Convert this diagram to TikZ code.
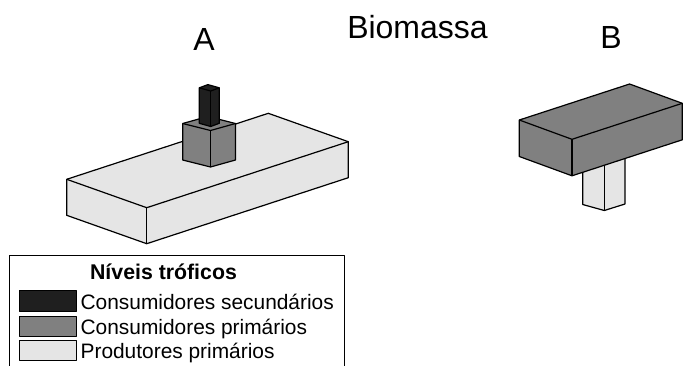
\documentclass[tikz,border=0pt]{standalone}
\usepackage{fontspec}
\setmainfont{Liberation Sans}
\usepackage{tikz}
\usetikzlibrary{calc}
\definecolor{prodGray}{gray}{0.9}
\definecolor{primGray}{gray}{0.5}
\definecolor{secGray}{gray}{0.12}
\newcommand{\drawPrism}[6]{
    % Fill the visible faces and draw the outline
    \filldraw[fill=#1] (#2) -- ($(#2)+(0,#6)$) -- ($(#3)+(0,#6)$) -- ($(#4)+(0,#6)$) -- (#4) -- (#5) -- cycle;

    % Draw the inner edges
    \draw (#2) -- (#3) -- (#4);
    \draw (#3) -- ($(#3)+(0,#6)$);
}

\begin{document}
\begin{tikzpicture}[x=1pt, y=-1pt, line width=1.2pt, line join=round,
    title/.style={font=\fontsize{32}{36}\selectfont, inner sep=0pt, anchor=base},
    legendtext/.style={font=\fontsize{20.9}{24}\selectfont, inner sep=0pt, anchor=base west},
    swatch/.style={draw, line width=1pt}]
  \useasboundingbox (0,0) rectangle (683,365);

  % Draw the titles
  \node[title] (biomassa) at (417.5,38.3) {Biomassa};
  \node[title] (labelA) at (204,50) {A};
  \node[title] (labelB) at (611,48.3) {B};

  % Pyramid A: producers, primary and secondary consumers
  \drawPrism{prodGray}{66.7,179.3}{146.7,207.7}{348.3,141.7}{268.3,113.3}{36}
  \drawPrism{primGray}{182.7,123.5}{210.5,130.5}{235.5,123.5}{207.7,116.5}{36.5}
  \drawPrism{secGray}{199.3,87.8}{210.7,91}{219.3,87.8}{207.9,84.6}{35.5}

  % Pyramid B: the producers sit under the consumers
  \drawPrism{prodGray}{582.7,154.5}{604.3,160.5}{625,154}{603.4,148}{50}
  \drawPrism{primGray}{519.3,120}{572,139.3}{682.3,103.3}{629.6,84}{36.5}

  % Draw the Legend
  \draw[line width=1pt] (9.3,366) -- (9.3,255) -- (344.7,255) -- (344.7,366);
  \node[font=\bfseries\fontsize{21.3}{24}\selectfont, inner sep=0pt, anchor=base] (legendTitle) at (163.5,279) {Níveis tróficos};
  \filldraw[swatch, fill=secGray] (19.3,290.7) rectangle (76,311);
  \node[legendtext] (secLabel) at (80,309) {Consumidores secundários};
  \filldraw[swatch, fill=primGray] (19.3,316) rectangle (76,336);
  \node[legendtext] (primLabel) at (80,334) {Consumidores primários};
  \filldraw[swatch, fill=prodGray] (19.3,340.7) rectangle (76,360);
  \node[legendtext] (prodLabel) at (80,358.3) {Produtores primários};
\end{tikzpicture}
\end{document}
